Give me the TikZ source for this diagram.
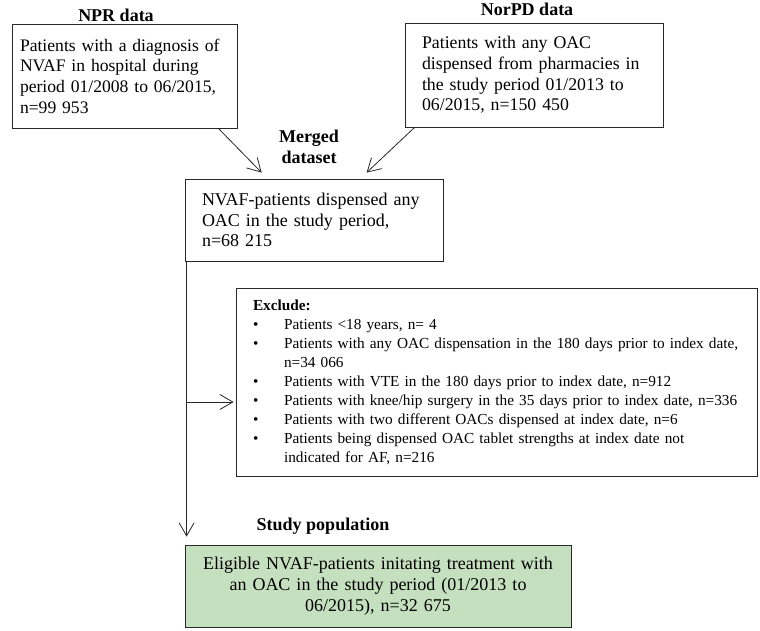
\documentclass[tikz,border=0pt]{standalone}
\usepackage{fontspec}
\setmainfont{Liberation Serif}
\usetikzlibrary{arrows.meta,calc}
\definecolor{boxgreen}{RGB}{197,224,190}
\definecolor{edge}{RGB}{40,40,40}
\begin{document}
\begin{tikzpicture}[x=1pt,y=-1pt,
  box/.style={draw=edge, line width=0.8pt, inner ysep=0pt, align=left,
    font=\fontsize{18}{20.7}\selectfont},
  title/.style={font=\fontsize{18}{21}\selectfont\bfseries, align=center, inner sep=0pt},
  arr/.style={draw=edge, line width=0.8pt, -{Straight Barb[length=13pt,width=15pt]}}]
\useasboundingbox (0,0) rectangle (760,630);

\node[title] (nprt) at (116,15) {NPR data};
\node[title] (norpdt) at (527,9) {NorPD data};
\node[title] (mergedt) at (309,147) {Merged\\dataset};
\node[title] (studyt) at (323,526) {Study population};

\node[box, text width=209pt, inner xsep=8pt, minimum height=104pt, font=\fontsize{17.6}{20.7}\selectfont] (npr) at (124.5,76)
  {Patients with a diagnosis of\\NVAF in hospital during\\period 01/2008 to 06/2015,\\n=99 953};
\node[box, text width=224pt, inner xsep=17pt, minimum height=104pt, font=\fontsize{17.8}{20.7}\selectfont] (norpd) at (534,75)
  {Patients with any OAC\\dispensed from pharmacies in\\the study period 01/2013 to\\06/2015, n=150 450};
\node[box, text width=224pt, inner xsep=17pt, minimum height=82pt] (merged) at (314,220)
  {NVAF-patients dispensed any\\OAC in the study period,\\n=68 215};
\node[box, text width=487pt, inner xsep=17pt, minimum height=188pt,
  font=\fontsize{15.3}{19}\selectfont] (excl) at (496.5,382)
  {\textbf{Exclude:}\\
   \makebox[31pt][l]{\textbullet}Patients <18 years, n= 4\\
   \makebox[31pt][l]{\textbullet}Patients with any OAC dispensation in the 180 days prior to index date,\\
   \hspace*{31pt}n=34 066\\
   \makebox[31pt][l]{\textbullet}Patients with VTE in the 180 days prior to index date, n=912\\
   \makebox[31pt][l]{\textbullet}Patients with knee/hip surgery in the 35 days prior to index date, n=336\\
   \makebox[31pt][l]{\textbullet}Patients with two different OACs dispensed at index date, n=6\\
   \makebox[31pt][l]{\textbullet}Patients being dispensed OAC tablet strengths at index date not\\
   \hspace*{31pt}indicated for AF, n=216};
\node[box, fill=boxgreen, text width=370pt, inner xsep=8pt, minimum height=82pt, align=center] (final) at (378,586)
  {Eligible NVAF-patients initating treatment with\\an OAC in the study period (01/2013 to\\06/2015), n=32 675};

\draw[arr] ([xshift=-19pt]npr.south east) -- ([xshift=77pt,yshift=6pt]merged.north west);
\draw[arr] ([xshift=10pt]norpd.south west) -- ([xshift=182pt,yshift=6pt]merged.north west);
\coordinate (vtop) at ([xshift=2pt]merged.south west);
\coordinate (bre) at ([yshift=-20pt]excl.west);
\draw[arr] (vtop) -- ([xshift=2pt,yshift=8pt]final.north west);
\draw[arr] (vtop |- bre) -- ([xshift=-2pt]bre);
\end{tikzpicture}
\end{document}
